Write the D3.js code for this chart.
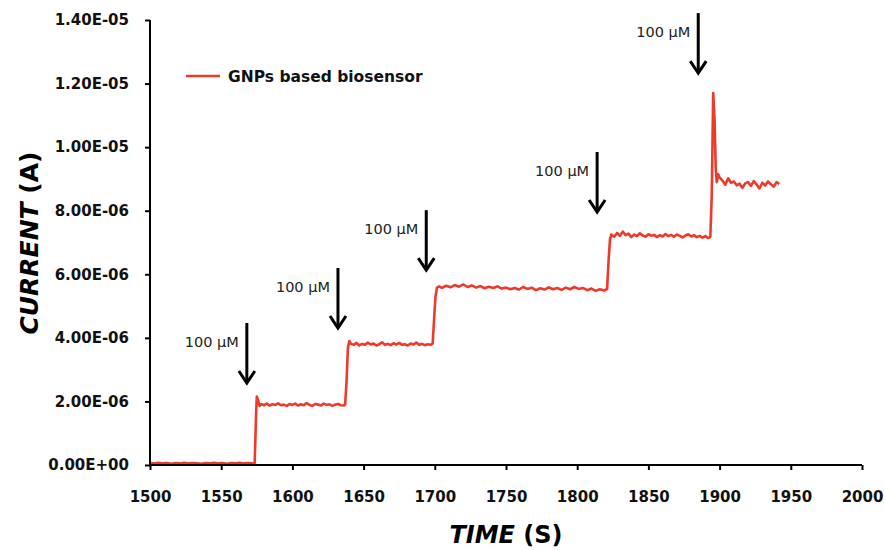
<!DOCTYPE html>
<html>
<head>
<meta charset="utf-8">
<script src="https://cdn.jsdelivr.net/npm/d3@7"></script>
<style>
    body { margin: 0; background: #fff; }
    svg { display: block; }
</style>
</head>
<body>
<script>

// trace, time in s, current in µA (scaled to A below)
var times = [
    1500, 1503, 1506, 1509, 1512, 1515, 1518, 1521, 1524, 1527, 1530, 1533, 1536, 1539, 1542, 1545, 1548, 1551, 1554, 1557, 1560, 1563, 1566, 1569, 1572, 1573.5,
    1574.5, 1575, 1576, 1577, 1578, 1580, 1582, 1584, 1586, 1588, 1590, 1592, 1594, 1596, 1598, 1600, 1602, 1604, 1606, 1608, 1610, 1612, 1614, 1616, 1618, 1620, 1622, 1624, 1626, 1628, 1630, 1632, 1634, 1636, 1637,
    1638, 1639, 1640, 1641, 1643, 1645, 1647, 1649, 1651, 1653, 1655, 1657, 1659, 1661, 1663, 1665, 1667, 1669, 1671, 1673, 1675, 1677, 1679, 1681, 1683, 1685, 1687, 1689, 1691, 1693, 1695, 1697, 1698.5,
    1699.5, 1700.5, 1701.5, 1703, 1705, 1708, 1711, 1714, 1717, 1720, 1723, 1726, 1729, 1732, 1735, 1738, 1741, 1744, 1747, 1750, 1753, 1756, 1759, 1762, 1765, 1768, 1771, 1774, 1777, 1780, 1783, 1786, 1789, 1792, 1795, 1798, 1801, 1804, 1807, 1810, 1813, 1816, 1819, 1821,
    1822, 1823, 1824, 1826, 1828, 1830, 1832, 1834, 1836, 1838, 1840, 1842, 1844, 1846, 1848, 1850, 1852, 1854, 1856, 1858, 1860, 1862, 1864, 1866, 1868, 1870, 1872, 1874, 1876, 1878, 1880, 1882, 1884, 1886, 1888, 1890, 1892, 1893.5,
    1894.5, 1895.5, 1896.5, 1897.3, 1898, 1899, 1900, 1902, 1904, 1906, 1908, 1910, 1912, 1914, 1916, 1918, 1920, 1922, 1924, 1926, 1928, 1930, 1932, 1934, 1936, 1938, 1940, 1942
];

var currentMicro = [
    0.06, 0.05, 0.07, 0.05, 0.06, 0.04, 0.06, 0.05, 0.07, 0.05, 0.06, 0.05, 0.04, 0.06, 0.05, 0.07, 0.05, 0.06, 0.04, 0.06, 0.05, 0.07, 0.05, 0.06, 0.05, 0.06,
    1.60, 2.15, 2.02, 1.86, 1.92, 1.88, 1.93, 1.87, 1.91, 1.89, 1.94, 1.88, 1.90, 1.86, 1.92, 1.89, 1.93, 1.87, 1.91, 1.88, 1.95, 1.89, 1.86, 1.92, 1.90, 1.87, 1.93, 1.89, 1.91, 1.86, 1.90, 1.92, 1.88, 1.87, 1.90,
    2.60, 3.70, 3.90, 3.82, 3.78, 3.84, 3.76, 3.81, 3.78, 3.85, 3.79, 3.82, 3.76, 3.80, 3.86, 3.78, 3.81, 3.77, 3.83, 3.79, 3.84, 3.78, 3.80, 3.76, 3.82, 3.79, 3.85, 3.78, 3.81, 3.77, 3.80, 3.78, 3.82,
    4.60, 5.30, 5.58, 5.62, 5.57, 5.64, 5.59, 5.66, 5.61, 5.68, 5.60, 5.65, 5.58, 5.63, 5.56, 5.61, 5.57, 5.62, 5.55, 5.58, 5.53, 5.57, 5.52, 5.60, 5.54, 5.58, 5.50, 5.56, 5.52, 5.59, 5.53, 5.57, 5.51, 5.58, 5.53, 5.60, 5.54, 5.57, 5.50, 5.55, 5.48, 5.53, 5.49, 5.54,
    6.40, 7.10, 7.25, 7.18, 7.30, 7.21, 7.34, 7.23, 7.28, 7.17, 7.25, 7.20, 7.29, 7.22, 7.18, 7.26, 7.21, 7.24, 7.17, 7.23, 7.19, 7.27, 7.20, 7.24, 7.18, 7.25, 7.21, 7.16, 7.22, 7.26, 7.19, 7.23, 7.17, 7.21, 7.15, 7.20, 7.14, 7.18,
    8.50, 11.70, 10.80, 9.30, 8.90, 9.15, 9.05, 8.95, 8.82, 9.02, 8.88, 8.92, 8.80, 8.85, 8.72, 8.86, 8.90, 8.78, 8.93, 8.82, 8.70, 8.88, 8.79, 8.92, 8.83, 8.76, 8.90, 8.84
];

// injection arrows: time and current (µA) at the arrow tip
var arrowTimes = [1568, 1632, 1694, 1814, 1885];
var arrowTips = [2.58, 4.31, 6.13, 7.96, 12.33];
var arrowLabel = "100 \u00b5M";

var xTicks = [1500, 1550, 1600, 1650, 1700, 1750, 1800, 1850, 1900, 1950, 2000];
var yTicks = [0, 2e-6, 4e-6, 6e-6, 8e-6, 1e-5, 1.2e-5, 1.4e-5];

var seriesName = "GNPs based biosensor";
var lineColor = "#ee3a2a";

var width = 885, height = 550;
var margin = { left: 150, right: 23, top: 20, bottom: 85 };

var svg = d3.select("body")
    .append("svg")
        .attr("width", width)
        .attr("height", height);

var x = d3.scaleLinear()
    .domain([1500, 2000])
    .range([margin.left, width - margin.right]);

var y = d3.scaleLinear()
    .domain([0, 1.4e-5])
    .range([height - margin.bottom, margin.top]);

var fmtExp = function (v) {
    if (v === 0) return "0.00E+00";
    var s = v.toExponential(2).toUpperCase();
    return s.replace(/E([+-])(\d)$/, "E$10$2");
};

var points = times.map(function (t, i) {
    return { t: t, v: currentMicro[i] * 1e-6 };
});

// trace
svg.append("path")
    .datum(points)
    .attr("fill", "none")
    .attr("stroke", lineColor)
    .attr("stroke-width", 2.6)
    .attr("stroke-linejoin", "round")
    .attr("d", d3.line()
        .x(function (d) { return x(d.t); })
        .y(function (d) { return y(d.v); }));

// axes
var xAxis = svg.append("g")
    .attr("transform", "translate(0," + y(0) + ")")
    .call(d3.axisBottom(x).tickValues(xTicks).tickSize(5).tickPadding(21).tickFormat(d3.format("d")));

var yAxis = svg.append("g")
    .attr("transform", "translate(" + x(1500) + ",0)")
    .call(d3.axisLeft(y).tickValues(yTicks).tickSize(5).tickPadding(16).tickFormat(fmtExp));

[xAxis, yAxis].forEach(function (g) {
    g.select(".domain")
        .attr("stroke", "#000")
        .attr("stroke-width", 2);
    g.selectAll(".tick line")
        .attr("stroke", "#000")
        .attr("stroke-width", 2);
    g.selectAll(".tick text")
        .attr("fill", "#111")
        .style("font-family", "'DejaVu Sans'")
        .style("font-weight", "bold")
        .style("font-size", "15px");
});

// plain axis lines, no outer caps
xAxis.select(".domain").attr("d", "M" + x(1500) + ",0H" + x(2000));
yAxis.select(".domain").attr("d", "M0," + y(0) + "V" + y(1.4e-5));

// arrows + labels
var arrows = svg.append("g");

arrowTimes.forEach(function (t, i) {
    var ax = x(t);
    var tip = y(arrowTips[i] * 1e-6);
    var top = tip - 60;

    arrows.append("line")
        .attr("x1", ax).attr("y1", top)
        .attr("x2", ax).attr("y2", tip - 1)
        .attr("stroke", "#000")
        .attr("stroke-width", 3);

    arrows.append("path")
        .attr("d", "M" + (ax - 8) + "," + (tip - 12) + "L" + ax + "," + tip + "L" + (ax + 8) + "," + (tip - 12))
        .attr("fill", "none")
        .attr("stroke", "#000")
        .attr("stroke-width", 3);

    arrows.append("text")
        .attr("x", ax - 8)
        .attr("y", top + 24)
        .attr("text-anchor", "end")
        .attr("fill", "#222")
        .style("font-family", "'DejaVu Sans'")
        .style("font-size", "14.5px")
        .text(arrowLabel);
});

// legend
var legend = svg.append("g");

legend.append("line")
    .attr("x1", 186).attr("y1", 76)
    .attr("x2", 220).attr("y2", 76)
    .attr("stroke", lineColor)
    .attr("stroke-width", 2.5);

legend.append("text")
    .attr("x", 228)
    .attr("y", 81.5)
    .attr("fill", "#111")
    .style("font-family", "'DejaVu Sans'")
    .style("font-weight", "bold")
    .style("font-size", "15.5px")
    .text(seriesName);

// axis titles
var xTitle = svg.append("text")
    .attr("x", 506)
    .attr("y", 543)
    .attr("text-anchor", "middle")
    .attr("fill", "#000")
    .style("font-family", "'DejaVu Sans'")
    .style("font-weight", "bold")
    .style("font-size", "24px");
xTitle.append("tspan").style("font-style", "italic").text("TIME");
xTitle.append("tspan").text(" (S)");

var yTitle = svg.append("text")
    .attr("transform", "translate(38,243) rotate(-90)")
    .attr("text-anchor", "middle")
    .attr("fill", "#000")
    .style("font-family", "'DejaVu Sans'")
    .style("font-weight", "bold")
    .style("font-size", "25px");
yTitle.append("tspan").style("font-style", "italic").text("CURRENT");
yTitle.append("tspan").text(" (A)");

</script>
</body>
</html>
